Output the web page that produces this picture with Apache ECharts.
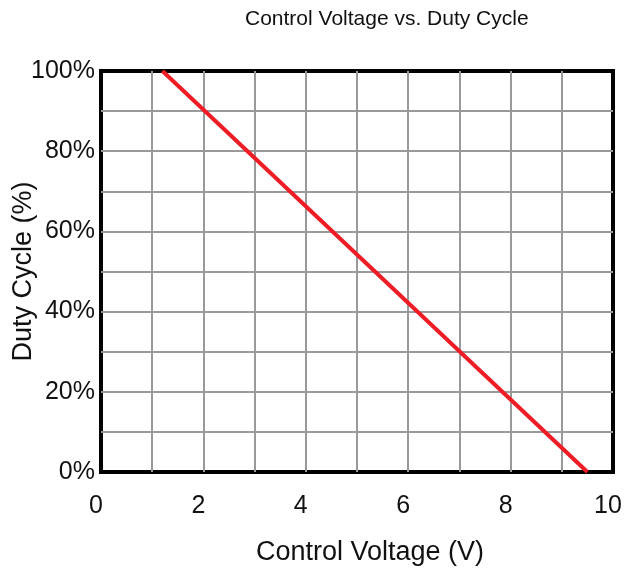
<!DOCTYPE html>
<html>
<head>
<meta charset="utf-8">
<script src="https://cdn.jsdelivr.net/npm/echarts@6/dist/echarts.min.js"></script>
<style>html,body{margin:0;padding:0;background:#fff;}#c{width:626px;height:571px;}</style>
</head>
<body>
<div id="c"></div>
<script>
var voltage = [1.2, 9.5];
var dutyCycle = [100, 0];
var xTicks = [0, 2, 4, 6, 8, 10];
var yTicks = ['0%', '20%', '40%', '60%', '80%', '100%'];

var chart = echarts.init(document.getElementById('c'), null, {renderer: 'canvas'});
var font = 'Liberation Sans, Arial, sans-serif';
chart.setOption({
  animation: false,
  title: {
    text: 'Control Voltage vs. Duty Cycle',
    left: 240, top: 4,
    textStyle: {fontFamily: font, fontSize: 21, fontWeight: 'normal', color: '#111'}
  },
  grid: {left: 101, top: 71, width: 512, height: 401, show: true, borderColor: '#000', borderWidth: 4,
    backgroundColor: 'transparent', containLabel: false, outerBoundsMode: 'none'},
  xAxis: {
    type: 'value', min: 0, max: 10, interval: 2,
    name: 'Control Voltage (V)', nameLocation: 'middle', nameGap: 67, nameMoveOverlap: false,
    nameTextStyle: {fontFamily: font, fontSize: 27, color: '#111', padding: [0, 0, 0, 26]},
    axisLine: {show: false}, axisTick: {show: false},
    axisLabel: {fontFamily: font, fontSize: 25, color: '#111', margin: 22, padding: [0, 10, 0, 0],
      formatter: function (v) { return String(xTicks[v / 2]); }},
    splitLine: {show: true, showMinLine: false, showMaxLine: false, lineStyle: {color: '#999', width: 2}},
    minorTick: {show: false, splitNumber: 2},
    minorSplitLine: {show: true, lineStyle: {color: '#999', width: 2}}
  },
  yAxis: {
    type: 'value', min: 0, max: 100, interval: 20,
    name: 'Duty Cycle (%)', nameLocation: 'middle', nameGap: 64, nameRotate: 90, nameMoveOverlap: false,
    nameTextStyle: {fontFamily: font, fontSize: 27, color: '#111'},
    axisLine: {show: false}, axisTick: {show: false},
    axisLabel: {fontFamily: font, fontSize: 25, color: '#111', margin: 6, padding: [0, 0, 5, 0],
      formatter: function (v) { return yTicks[v / 20]; }},
    splitLine: {show: true, showMinLine: false, showMaxLine: false, lineStyle: {color: '#999', width: 2}},
    minorTick: {show: false, splitNumber: 2},
    minorSplitLine: {show: true, lineStyle: {color: '#999', width: 2}}
  },
  series: [{
    type: 'line',
    data: voltage.map(function (v, i) { return [v, dutyCycle[i]]; }),
    showSymbol: false,
    lineStyle: {color: '#ee1c25', width: 4},
    z: 1
  }]
});
</script>
</body>
</html>
